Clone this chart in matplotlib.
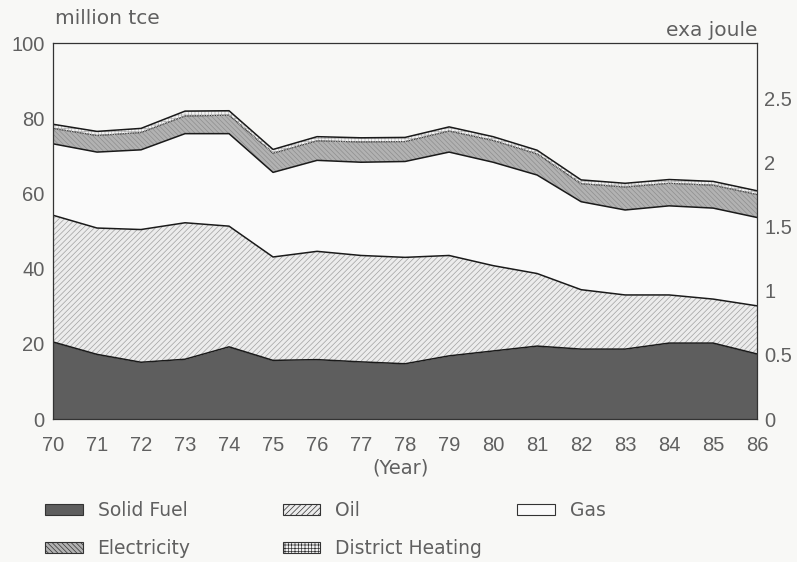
import numpy as np
import matplotlib
matplotlib.use('Agg')
import matplotlib.pyplot as plt
from matplotlib.patches import Patch

# energy use, million tce
years = list(range(70, 87))
solid_fuel = [20.5, 17.2, 15.1, 15.9, 19.2, 15.6, 15.8, 15.2, 14.7, 16.8, 18.1, 19.4, 18.6, 18.6, 20.2, 20.2, 17.3]
oil = [33.7, 33.6, 35.3, 36.3, 32.1, 27.5, 28.8, 28.3, 28.3, 26.7, 22.7, 19.3, 15.8, 14.4, 12.8, 11.7, 12.8]
gas = [19.0, 20.2, 21.2, 23.7, 24.6, 22.5, 24.2, 24.8, 25.5, 27.5, 27.5, 26.2, 23.4, 22.6, 23.7, 24.2, 23.5]
electricity = [4.1, 4.4, 4.6, 4.7, 4.9, 5.1, 5.2, 5.4, 5.3, 5.6, 5.8, 5.6, 4.8, 6.1, 6.0, 6.1, 6.1]
district_heating = [1.1, 1.1, 1.1, 1.3, 1.2, 1.0, 1.1, 1.1, 1.1, 1.1, 1.0, 1.0, 1.0, 1.0, 1.0, 1.0, 1.0]

names = ['Solid Fuel', 'Oil', 'Gas', 'Electricity', 'District Heating']
left_ticks = [0, 20, 40, 60, 80, 100]
right_ticks = [0, 0.5, 1, 1.5, 2, 2.5]
right_labels = ['0', '0.5', '1', '1.5', '2', '2.5']
tce_per_ej = 34.12

plt.rcParams['font.family'] = ['DejaVu Sans']
plt.rcParams['hatch.linewidth'] = 0.5
txt = '#606060'
paper = '#f8f8f6'
tickfont = {'family': 'Liberation Sans', 'size': 14.5}

fig = plt.figure(figsize=(7.97, 5.62), dpi=100, facecolor=paper)
ax = fig.add_axes([0.0665, 0.2544, 0.8835, 0.669], facecolor=paper)

fills = ['#5e5e5e', '#ececec', '#fafafa', '#b2b2b2', '#f2f2f2']
hatches = [None, '//////', None, '\\\\\\\\\\\\\\', '+++++']
hatch_cols = ['#5e5e5e', '#a0a0a0', '#fafafa', '#8e8e8e', '#b4b4b4']

layers = ax.stackplot(years, solid_fuel, oil, gas, electricity, district_heating,
                      colors=fills, linewidth=0)
for poly, h, hc in zip(layers, hatches, hatch_cols):
    poly.set_edgecolor(hc)
    if h:
        poly.set_hatch(h)
    poly.set_linewidth(0)

tops = np.cumsum(np.array([solid_fuel, oil, gas, electricity, district_heating]), axis=0)
for i, top in enumerate(tops):
    ax.plot(years, top, color='#1a1a1a', lw=1.1 if i != 3 else 0.8)
ax.plot(years, tops[3], color='white', lw=0.6, ls=(0, (1, 1)))

ax.set_xlim(70, 86)
ax.set_ylim(0, 100)
ax.set_xticks(years)
ax.set_xticklabels([str(y) for y in years], fontdict=tickfont)
ax.set_yticks(left_ticks)
ax.set_yticklabels([str(v) for v in left_ticks], fontdict=tickfont)
ax.tick_params(axis='both', length=0, colors=txt)
ax.tick_params(axis='x', pad=12)
ax.tick_params(axis='y', pad=6)
for s in ax.spines.values():
    s.set_color('#333333')
    s.set_linewidth(0.9)

ax2 = ax.twinx()
ax2.set_ylim(0, 100 / tce_per_ej)
ax2.set_yticks(right_ticks)
ax2.set_yticklabels(right_labels, fontdict=tickfont)
ax2.tick_params(axis='y', length=0, colors=txt, pad=5)
for s in ax2.spines.values():
    s.set_visible(False)

fig.text(0.069, 0.967, 'million tce', fontsize=14.5, color=txt, ha='left', va='center')
fig.text(0.950, 0.946, 'exa joule', fontsize=14.5, color=txt, ha='right', va='center')
fig.text(0.503, 0.167, '(Year)', fontsize=14, color=txt, ha='center', va='center')

handles = [Patch(facecolor=f, edgecolor='#333333', hatch=h, linewidth=0.8)
           for f, h in zip(fills, hatches)]
# legend columns: (solid fuel, electricity), (oil, district heating), (gas)
cols = [([0, 3], 0.0565), ([1, 4], 0.355), ([2], 0.649)]
for idx, x0 in cols:
    fig.legend([handles[i] for i in idx], [names[i] for i in idx],
               loc='upper left', bbox_to_anchor=(x0, 0.108), frameon=False,
               fontsize=13.5, labelcolor=txt, handlelength=2.0, handleheight=0.55,
               handletextpad=0.8, labelspacing=1.02, borderaxespad=0, borderpad=0)

fig.savefig('out.png', dpi=100, facecolor=paper)
